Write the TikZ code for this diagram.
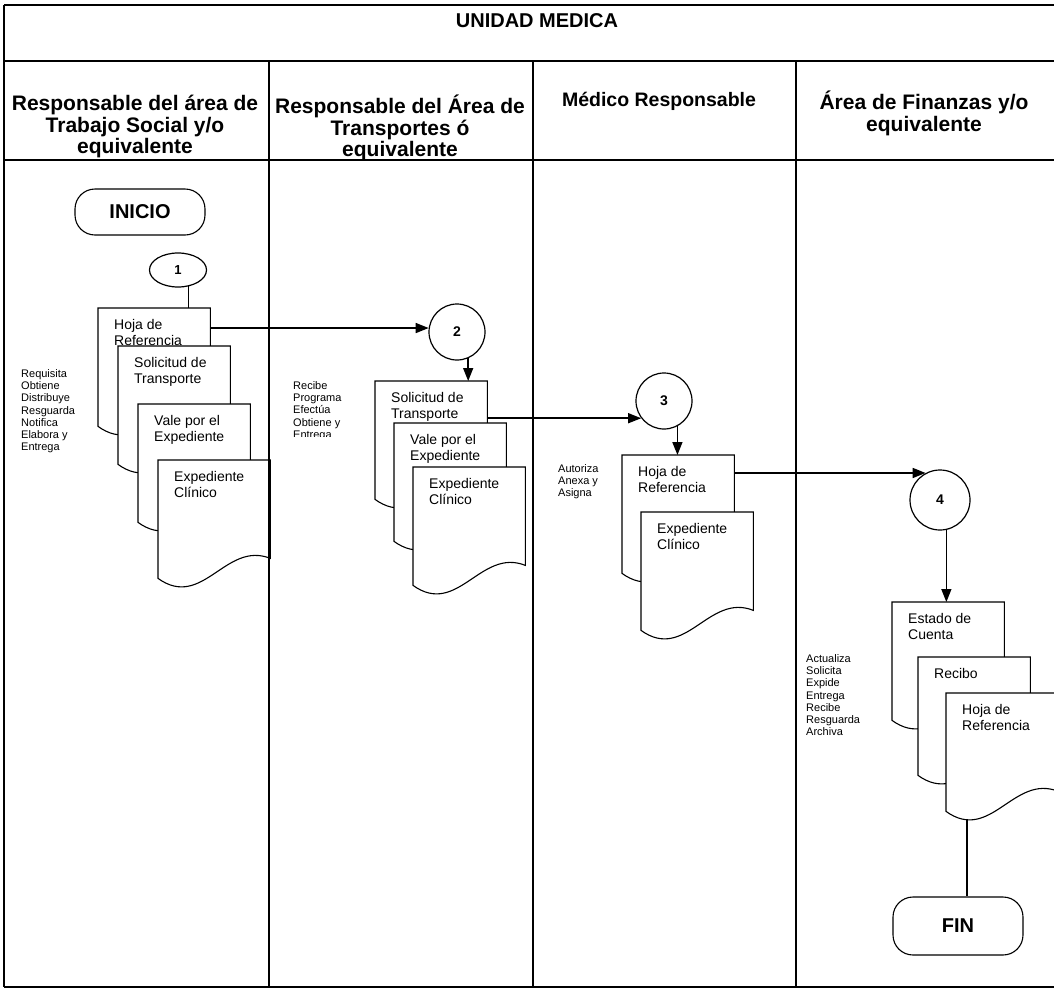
\documentclass[tikz,border=0pt]{standalone}
\usepackage{fontspec}
\setmainfont{Liberation Sans}
\usetikzlibrary{arrows.meta,shapes.geometric}

\tikzset{
  frame/.style={line width=1.4pt},
  doc/.style={draw, line width=1.1pt, fill=white, line join=miter},
  docnode/.style={minimum width=112pt, minimum height=118pt, inner sep=0pt, anchor=north west},
  doctext/.style={font=\fontsize{14}{16}\selectfont, align=left, inner sep=0pt, anchor=north west},
  sidetext/.style={font=\fontsize{11}{12.3}\selectfont, align=left, inner sep=0pt, anchor=north west},
  lanehead/.style={font=\bfseries\fontsize{21}{21.5}\selectfont, align=center, inner sep=0pt, anchor=north},
  terminal/.style={draw, line width=1.1pt, rounded corners=20pt, minimum width=130pt,
    font=\bfseries\fontsize{20}{22}\selectfont},
  connector/.style={draw, circle, line width=1.2pt, inner sep=0pt,
    font=\bfseries\fontsize{14}{14}\selectfont},
  flow/.style={line width=1.5pt, -{Triangle[length=13pt,width=10pt]}},
  link/.style={line width=1.5pt},
}

% document symbol: name, left x, top y, text
\newcommand{\flowdoc}[4]{%
  \node[docnode] (#1) at (#2,#3) {};
  \path[doc] (#1.north west) -- (#1.north east) -- ([yshift=20pt]#1.south east)
    .. controls ([shift={(-44.8pt,38pt)}]#1.south east) and ([shift={(44.8pt,-32pt)}]#1.south west)
    .. (#1.south west) -- cycle;
  \node[doctext] (#1-txt) at ([shift={(16pt,-11pt)}]#1.north west) {#4};
}

\begin{document}
\begin{tikzpicture}[x=1pt,y=-1pt]
\useasboundingbox (0,0) rectangle (1054,991);

% headings
\node[font=\bfseries\fontsize{20}{22}\selectfont] (unidad) at (537,21) {UNIDAD MEDICA};
\node[lanehead] (h1) at (135,95) {Responsable del área de\\Trabajo Social y/o\\equivalente};
\node[lanehead] (h2) at (400,95) {Responsable del Área de\\Transportes ó\\equivalente};
\node[lanehead, font=\bfseries\fontsize{19.5}{21.5}\selectfont] (h3) at (659,92) {Médico Responsable};
\node[lanehead] (h4) at (924,91) {Área de Finanzas y/o\\equivalente};

% terminals and connectors
\node[terminal, minimum height=46pt] (inicio) at (140,212) {INICIO};
\node[terminal, minimum height=58pt] (fin) at (958,926) {FIN};
\node[draw, ellipse, line width=1.2pt, minimum width=57pt, minimum height=34pt, inner sep=0pt,
  font=\bfseries\fontsize{13}{13}\selectfont] (c1) at (178,270) {1};
\node[connector, minimum size=56pt] (c2) at (457,332) {2};
\node[connector, minimum size=56pt] (c3) at (664,401) {3};
\node[connector, minimum size=60pt] (c4) at (940,500) {4};

% lane 1 documents
\flowdoc{dA}{98}{308}{Hoja de\\Referencia}
\flowdoc{dB}{118}{346}{Solicitud de\\Transporte}
\flowdoc{dC}{138}{404}{Vale por el\\Expediente}
\flowdoc{dD}{158}{460}{Expediente\\Clínico}

% lane 2 documents
\flowdoc{dE}{375}{381}{Solicitud de\\Transporte}
\flowdoc{dF}{394}{423}{Vale por el\\Expediente}
\flowdoc{dG}{413}{467}{Expediente\\Clínico}

% lane 3 documents
\flowdoc{dH}{622}{455}{Hoja de\\Referencia}
\flowdoc{dI}{641}{512}{Expediente\\Clínico}

% lane 4 documents
\flowdoc{dJ}{892}{602}{Estado de\\Cuenta}
\flowdoc{dK}{918}{657}{Recibo}
\flowdoc{dL}{946}{693}{Hoja de\\Referencia}

% activity lists
\node[sidetext] (t1) at (21,369) {Requisita\\Obtiene\\Distribuye\\Resguarda\\Notifica\\Elabora y\\Entrega};
\begin{scope}
  \clip (280,370) rectangle (372,436);
  \node[sidetext] (t2) at (293,381) {Recibe\\Programa\\Efectúa\\Obtiene y\\Entrega};
\end{scope}
\node[sidetext] (t3) at (558,464) {Autoriza\\Anexa y\\Asigna};
\node[sidetext] (t4) at (806,654) {Actualiza\\Solicita\\Expide\\Entrega\\Recibe\\Resguarda\\Archiva};

% flow lines
\draw[link] (c1.-58) -- (c1.-58 |- dA.north);
\draw[flow] (c2.172 -| dA.east) -- (c2.172);
\draw[flow] (c2.-67) -- (c2.-67 |- dE.north);
\draw[flow] (c3.217 -| dE.east) -- (c3.217);
\draw[flow] (c3.-62) -- (c3.-62 |- dH.north);
\draw[flow] (c4.118 -| dH.east) -- (c4.118);
\draw[flow] (c4.-78) -- (c4.-78 |- dJ.north);
\coordinate (lEnd) at ([shift={(21pt,-8pt)}]dL.south west);
\draw[link] (lEnd) -- (lEnd |- fin.north);

% table frame
\draw[frame] (4,5) -- (1054,5);
\draw[frame] (4,61) -- (1054,61);
\draw[frame] (4,160) -- (1054,160);
\draw[frame] (4,987) -- (1054,987);
\draw[frame] (4,5) -- (4,987);
\draw[frame] (269,61) -- (269,987);
\draw[frame] (533,61) -- (533,987);
\draw[frame] (796,61) -- (796,987);
\end{tikzpicture}
\end{document}
